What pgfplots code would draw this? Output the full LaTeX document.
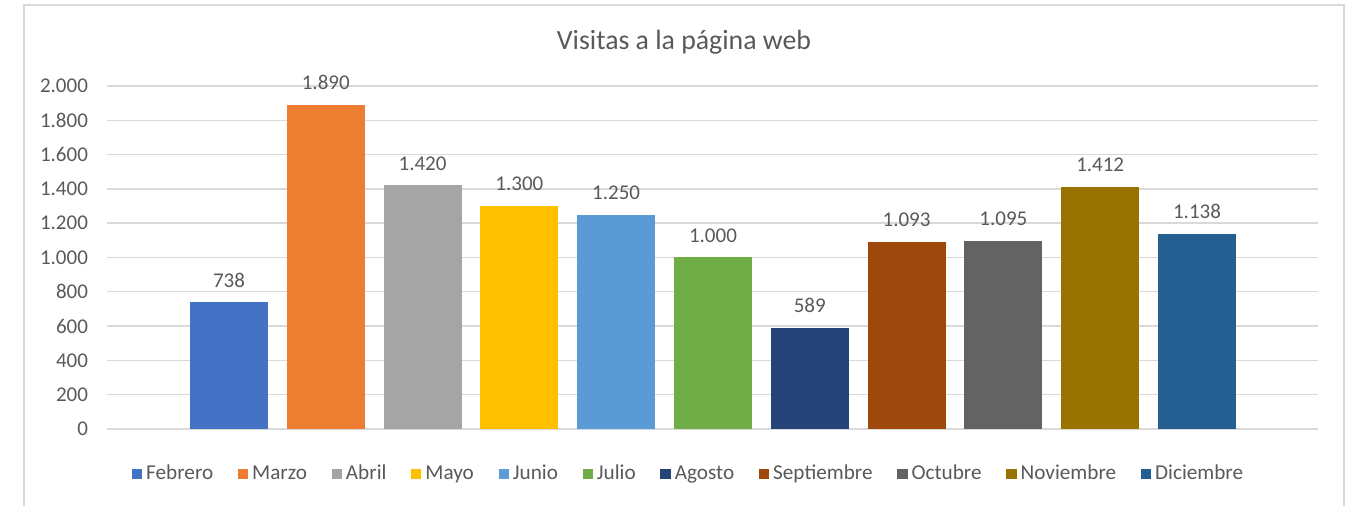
\documentclass[border=0pt]{standalone}
\usepackage{pgfplots}
\pgfplotsset{compat=1.18}
\usepackage{fontspec}
\setmainfont{Carlito}

\definecolor{txt}{HTML}{595959}
\definecolor{gridc}{HTML}{D9D9D9}
\definecolor{c1}{HTML}{4472C4}
\definecolor{c2}{HTML}{ED7D31}
\definecolor{c3}{HTML}{A5A5A5}
\definecolor{c4}{HTML}{FFC000}
\definecolor{c5}{HTML}{5B9BD5}
\definecolor{c6}{HTML}{70AD47}
\definecolor{c7}{HTML}{264478}
\definecolor{c8}{HTML}{9E480E}
\definecolor{c9}{HTML}{636363}
\definecolor{c10}{HTML}{997300}
\definecolor{c11}{HTML}{255E91}

\pgfkeys{/pgf/number format/.cd, 1000 sep={.}, assume math mode=true}

\begin{document}
\begin{tikzpicture}[x=1pt,y=1pt]
\path[use as bounding box] (0,0) rectangle (675.5,253);
% chart frame (bottom edge is cropped in the reference)
\draw[gridc, line width=0.9pt] (12,0) -- (12,250.5) -- (672,250.5) -- (672,0);
\node[text=txt, font=\fontsize{13.9}{16}\selectfont] at (342,232) {Visitas a la página web};

\begin{axis}[
  at={(53.5pt,38.5pt)}, anchor=south west,
  scale only axis, width=605.5pt, height=171.5pt,
  ymin=0, ymax=2000, xmin=-0.26, xmax=12.25,
  ybar, bar shift=0pt, bar width=0.806,
  ytick={0,200,...,2000}, xtick=\empty,
  scaled y ticks=false,
  ymajorgrids, grid style={gridc, line width=0.7pt},
  axis line style={draw=none}, major tick length=0pt,
  y tick label style={font=\fontsize{10.5}{12}\selectfont, text=txt, xshift=-6pt},
  nodes near coords,
  every node near coord/.append style={font=\fontsize{10.5}{12}\selectfont, text=txt, yshift=4pt},
  clip=false,
  legend columns=11,
  legend style={at={(0.481,-0.131)}, anchor=center, draw=none, fill=none,
    font=\fontsize{10.6}{12}\selectfont, text=txt,
    /tikz/every even column/.append style={column sep=10.3pt}},
  legend image code/.code={\fill[#1] (0pt,-2.6pt) rectangle (5.2pt,2.6pt);},
]
\addplot[fill=c1, draw=none] coordinates {(1,738)};
\addlegendentry{Febrero}
\addplot[fill=c2, draw=none] coordinates {(2,1890)};
\addlegendentry{Marzo}
\addplot[fill=c3, draw=none] coordinates {(3,1420)};
\addlegendentry{Abril}
\addplot[fill=c4, draw=none] coordinates {(4,1300)};
\addlegendentry{Mayo}
\addplot[fill=c5, draw=none] coordinates {(5,1250)};
\addlegendentry{Junio}
\addplot[fill=c6, draw=none] coordinates {(6,1000)};
\addlegendentry{Julio}
\addplot[fill=c7, draw=none] coordinates {(7,589)};
\addlegendentry{Agosto}
\addplot[fill=c8, draw=none] coordinates {(8,1093)};
\addlegendentry{Septiembre}
\addplot[fill=c9, draw=none] coordinates {(9,1095)};
\addlegendentry{Octubre}
\addplot[fill=c10, draw=none] coordinates {(10,1412)};
\addlegendentry{Noviembre}
\addplot[fill=c11, draw=none] coordinates {(11,1138)};
\addlegendentry{Diciembre}
\end{axis}
\end{tikzpicture}
\end{document}
